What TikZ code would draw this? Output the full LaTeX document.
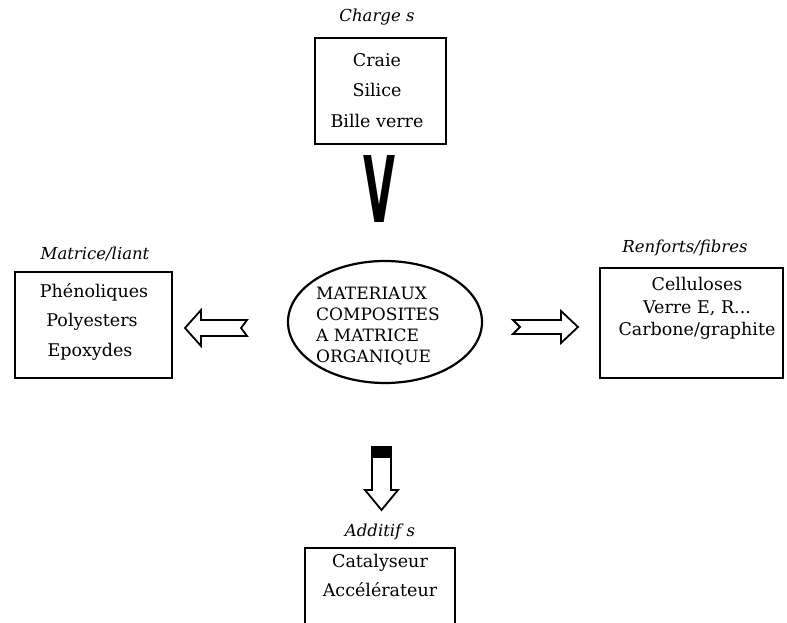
\documentclass[tikz,border=0pt]{standalone}
\usepackage{fontspec}
\setmainfont{DejaVu Serif}
\setsansfont{DejaVu Sans}
\usetikzlibrary{shapes.geometric}
\begin{document}
\begin{tikzpicture}[x=1pt,y=-1pt,
  box/.style={draw, line width=1.8pt, inner sep=0pt},
  lbl/.style={font=\fontsize{17.5}{20}\selectfont, inner sep=0pt},
  ttl/.style={font=\fontsize{16.5}{19}\selectfont\itshape, inner sep=0pt},
  blockarrow/.style={draw, line width=1.8pt, fill=white, line join=miter},
]
\useasboundingbox (0,0) rectangle (787,623);
% top box
\node[ttl] (chT) at (377,17) {Charge s};
\node[box, minimum width=131pt, minimum height=106pt] (charges) at (380.5,91) {};
\node[lbl] (c1) at (377,60) {Craie};
\node[lbl] (c2) at (377,90) {Silice};
\node[lbl] (c3) at (377,121) {Bille verre};
\node[inner sep=0pt] (v) at (379,188.5) {\resizebox{32pt}{67pt}{\sffamily\bfseries V}};
% left box
\node[ttl] (maT) at (95,254) {Matrice/liant};
\node[box, minimum width=157pt, minimum height=106pt] (matrice) at (93.5,325) {};
\node[lbl] (m1) at (94,292) {Phénoliques};
\node[lbl] (m2) at (92,322) {Polyesters};
\node[lbl] (m3) at (90,352) {Epoxydes};
% center
\node[draw, ellipse, line width=2.2pt, minimum width=194pt, minimum height=122pt, inner sep=0pt] (mat) at (385,322) {};
\node[inner sep=0pt, anchor=west, align=left, font=\fontsize{17}{21}\selectfont] (matT) at (316,326) {MATERIAUX\\COMPOSITES\\A MATRICE\\ORGANIQUE};
% right box
\node[ttl] (reT) at (685,248) {Renforts/fibres};
\node[box, minimum width=183pt, minimum height=110pt] (renforts) at (691.5,323) {};
\node[lbl] (r1) at (697,284) {Celluloses};
\node[lbl] (r2) at (697,308) {Verre E, R...};
\node[lbl] (r3) at (697,331) {Carbone/graphite};
% bottom box
\node[ttl] (adT) at (380,532) {Additif s};
\draw[line width=1.8pt] (305,630) -- (305,548) -- (455,548) -- (455,630);
\node[lbl] (a1) at (380,563) {Catalyseur};
\node[lbl] (a2) at (380,590) {Accélérateur};
% block arrows
\draw[blockarrow] (185,328) -- (201,310) -- (201,320) -- (247,320) -- (241,328) -- (247,336) -- (201,336) -- (201,346) -- cycle;
\draw[blockarrow] (578,327) -- (561,311) -- (561,320) -- (513,320) -- (520,327) -- (513,334) -- (561,334) -- (561,343) -- cycle;
\draw[blockarrow] (381.5,510) -- (365,490) -- (372,490) -- (372,447) -- (391,447) -- (391,490) -- (398,490) -- cycle;
\fill (372,447) rectangle (391,458);
\end{tikzpicture}
\end{document}
